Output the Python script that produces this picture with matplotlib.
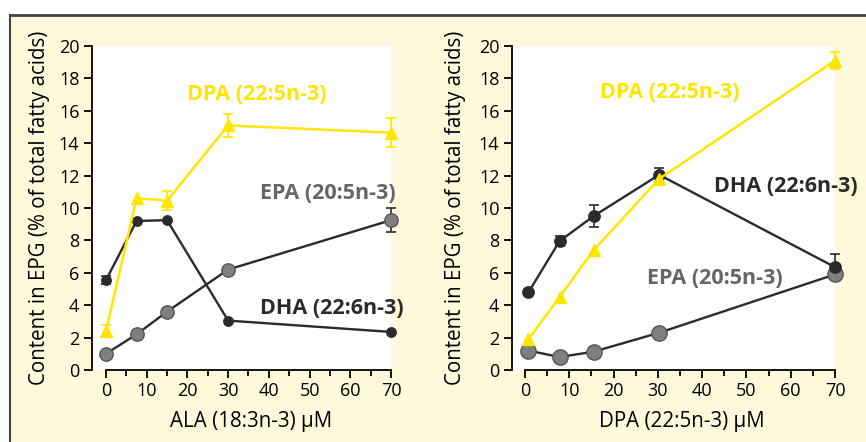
import numpy as np
import matplotlib
matplotlib.use("Agg")
import matplotlib.pyplot as plt
from matplotlib.lines import Line2D
from matplotlib.patches import Rectangle

plt.rcParams['font.family'] = ['Open Sans', 'DejaVu Sans']

# left panel: ALA supplementation
ala_x = [0, 7.5, 15, 30, 70]
ala_dpa = [2.4, 10.6, 10.45, 15.1, 14.65]
ala_dpa_err = [0.35, 0, 0.6, 0.7, 0.9]
ala_dha = [5.55, 9.2, 9.25, 3.05, 2.35]
ala_dha_err = [0.25, 0, 0, 0, 0]
ala_epa = [1.0, 2.2, 3.6, 6.2, 9.25]
ala_epa_err = [0, 0, 0, 0, 0.75]

# right panel: DPA supplementation
dpa_x = [0.8, 7.8, 15.5, 30.3, 70]
dpa_dpa = [1.9, 4.5, 7.4, 11.8, 19.1]
dpa_dpa_err = [0, 0, 0, 0, 0.5]
dpa_dha = [4.8, 7.95, 9.5, 12.05, 6.35]
dpa_dha_err = [0, 0.3, 0.7, 0.45, 0.8]
dpa_epa = [1.2, 0.8, 1.13, 2.3, 5.9]
dpa_epa_err = [0, 0, 0, 0, 0]

xticks = [0, 10, 20, 30, 40, 50, 60, 70]
yticks = [0, 2, 4, 6, 8, 10, 12, 14, 16, 18, 20]

yellow = '#FFE600'
dark = '#2B2B2B'
grey = '#7F7F7F'
cream = '#FFF9DC'

fig = plt.figure(figsize=(8.66, 4.42), dpi=100)
fig.patch.set_facecolor('white')
fig.add_artist(Rectangle((10 / 866, 0), 1, (442 - 15) / 442, transform=fig.transFigure,
                         facecolor=cream, edgecolor='none', zorder=-10))
fig.add_artist(Line2D([10 / 866, 1], [(442 - 15) / 442] * 2, transform=fig.transFigure,
                      color='#444444', lw=2))
fig.add_artist(Line2D([10 / 866] * 2, [0, (442 - 15) / 442], transform=fig.transFigure,
                      color='#444444', lw=1.5))


def errbars(ax, x, y, err, color):
    x, y, err = np.array(x), np.array(y), np.array(err)
    m = err > 0
    ax.errorbar(x[m], y[m], yerr=err[m], fmt='none', ecolor=color, elinewidth=1.2,
                capsize=3.5, capthick=1.2, zorder=2, clip_on=False)


def panel(ax, x, dpa, dpa_err, dha, dha_err, epa, epa_err, xmin, dha_ms, epa_ms):
    ax.set_facecolor('white')
    errbars(ax, x, epa, epa_err, dark)
    errbars(ax, x, dha, dha_err, dark)
    errbars(ax, x, dpa, dpa_err, yellow)
    ax.plot(x, epa, color=dark, lw=1.7, marker='o', ms=epa_ms, mfc=grey, mec='#555555',
            mew=1, zorder=3, clip_on=False)
    ax.plot(x, dha, color=dark, lw=1.7, marker='o', ms=dha_ms, mfc=dark, mec=dark,
            zorder=4, clip_on=False)
    ax.plot(x, dpa, color=yellow, lw=1.8, marker='^', ms=8.5, mfc=yellow, mec=yellow,
            zorder=5, clip_on=False)
    ax.set_xlim(xmin, 70)
    ax.set_ylim(0, 20)
    ax.set_xticks(xticks)
    ax.set_xticks(np.arange(5, 70, 10), minor=True)
    ax.set_yticks(yticks)
    ax.spines['top'].set_visible(False)
    ax.spines['right'].set_visible(False)
    ax.spines['bottom'].set_bounds(0, 70)
    for s in ['left', 'bottom']:
        ax.spines[s].set_linewidth(1.3)
    ax.tick_params(axis='both', which='major', length=6, width=1.3, labelsize=13, pad=3)
    ax.tick_params(axis='x', which='minor', length=4, width=1.3)
    ax.set_ylabel('Content in EPG (% of total fatty acids)', fontsize=14.8)


axl = fig.add_axes([0.1062, 0.1629, 0.3453, 0.733])
panel(axl, ala_x, ala_dpa, ala_dpa_err, ala_dha, ala_dha_err, ala_epa, ala_epa_err,
      -3.44, 6.8, 9.6)
axl.yaxis.set_label_coords(-0.14, 0.5)
axl.set_xlabel('ALA (18:3n-3) µM', fontsize=14.8)
axl.xaxis.set_label_coords(0.532, -0.127)
axl.text(37.1, 17.0, 'DPA (22:5n-3)', color=yellow, fontsize=15.5, fontweight='bold',
         ha='center', va='center')
axl.text(54.6, 10.9, 'EPA (20:5n-3)', color='#666666', fontsize=15.5, fontweight='bold',
         ha='center', va='center', clip_on=False)
axl.text(55.5, 3.8, 'DHA (22:6n-3)', color=dark, fontsize=15.5, fontweight='bold',
         ha='center', va='center', clip_on=False)

axr = fig.add_axes([0.5912, 0.1629, 0.373, 0.733])
panel(axr, dpa_x, dpa_dpa, dpa_dpa_err, dpa_dha, dpa_dha_err, dpa_epa, dpa_epa_err,
      -2.93, 8.2, 11)
axr.yaxis.set_label_coords(-0.142, 0.5)
axr.set_xlabel('DPA (22:5n-3) µM', fontsize=14.8)
axr.xaxis.set_label_coords(0.526, -0.127)
axr.text(32.7, 17.1, 'DPA (22:5n-3)', color=yellow, fontsize=15.5, fontweight='bold',
         ha='center', va='center')
axr.text(58.9, 11.3, 'DHA (22:6n-3)', color=dark, fontsize=15.5, fontweight='bold',
         ha='center', va='center', clip_on=False)
axr.text(42.9, 5.65, 'EPA (20:5n-3)', color='#666666', fontsize=15.5, fontweight='bold',
         ha='center', va='center', clip_on=False)

fig.savefig('out.png', dpi=100)
